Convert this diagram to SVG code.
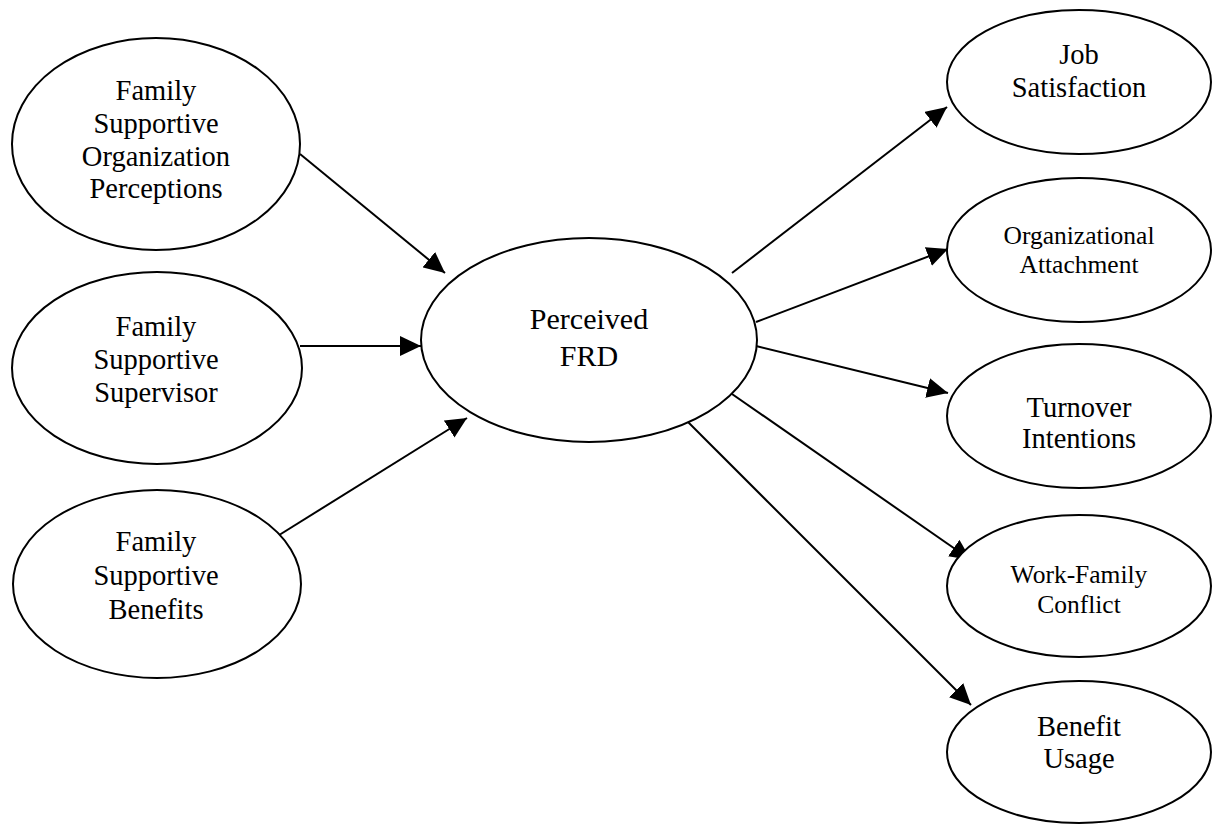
<svg xmlns="http://www.w3.org/2000/svg" width="1212" height="825" viewBox="0 0 1212 825">
<style>
.node ellipse{fill:#fff;stroke:#000;stroke-width:2}
.node text{font-family:"Liberation Serif","Times New Roman",serif;font-size:28.5px;fill:#000;text-anchor:middle}
.node text.sm{font-size:25.5px}
.node text.lg{font-size:30px}
.edge{stroke:#000;stroke-width:2;fill:none;marker-end:url(#ah)}
</style>
<defs>
<marker id="ah" markerUnits="userSpaceOnUse" markerWidth="21" markerHeight="20" refX="21" refY="10" orient="auto" viewBox="0 0 21 20">
<path d="M0,0 L21,10 L0,20 z" fill="#000"/>
</marker>
</defs>
<rect width="1212" height="825" fill="#fff"/>
<g id="connectors">
<line class="edge" x1="300" y1="154" x2="445" y2="273"/>
<line class="edge" x1="300" y1="346" x2="421" y2="346"/>
<line class="edge" x1="276" y1="537" x2="467" y2="418"/>
<line class="edge" x1="732" y1="273" x2="947" y2="107"/>
<line class="edge" x1="756" y1="322" x2="948" y2="249"/>
<line class="edge" x1="756" y1="346" x2="948" y2="393"/>
<line class="edge" x1="732" y1="394" x2="971" y2="560"/>
<line class="edge" x1="688" y1="422" x2="971" y2="705"/>
</g>
<g id="node-fsop" class="node">
<ellipse cx="156" cy="144" rx="144" ry="106"/>
<text x="156" y="100">Family</text>
<text x="156" y="133">Supportive</text>
<text x="156" y="166">Organization</text>
<text x="156" y="198">Perceptions</text>
</g>
<g id="node-fss" class="node">
<ellipse cx="157" cy="368" rx="145" ry="96"/>
<text x="156" y="336">Family</text>
<text x="156" y="369">Supportive</text>
<text x="156" y="402">Supervisor</text>
</g>
<g id="node-fsb" class="node">
<ellipse cx="157" cy="584" rx="144" ry="94"/>
<text x="156" y="551">Family</text>
<text x="156" y="585">Supportive</text>
<text x="156" y="619">Benefits</text>
</g>
<g id="node-frd" class="node">
<ellipse cx="589" cy="340" rx="168" ry="102"/>
<text class="lg" x="589" y="329">Perceived</text>
<text class="lg" x="589" y="366">FRD</text>
</g>
<g id="node-js" class="node">
<ellipse cx="1079" cy="82" rx="132" ry="72"/>
<text x="1079" y="64">Job</text>
<text x="1079" y="97">Satisfaction</text>
</g>
<g id="node-oa" class="node">
<ellipse cx="1079" cy="250" rx="132" ry="72"/>
<text class="sm" x="1079" y="244">Organizational</text>
<text class="sm" x="1079" y="273">Attachment</text>
</g>
<g id="node-ti" class="node">
<ellipse cx="1079" cy="416" rx="132" ry="72"/>
<text x="1079" y="417">Turnover</text>
<text x="1079" y="448">Intentions</text>
</g>
<g id="node-wfc" class="node">
<ellipse cx="1079" cy="586" rx="132" ry="71"/>
<text class="sm" x="1079" y="583">Work-Family</text>
<text class="sm" x="1079" y="613">Conflict</text>
</g>
<g id="node-bu" class="node">
<ellipse cx="1079" cy="752" rx="132" ry="71"/>
<text x="1079" y="736">Benefit</text>
<text x="1079" y="768">Usage</text>
</g>
</svg>
